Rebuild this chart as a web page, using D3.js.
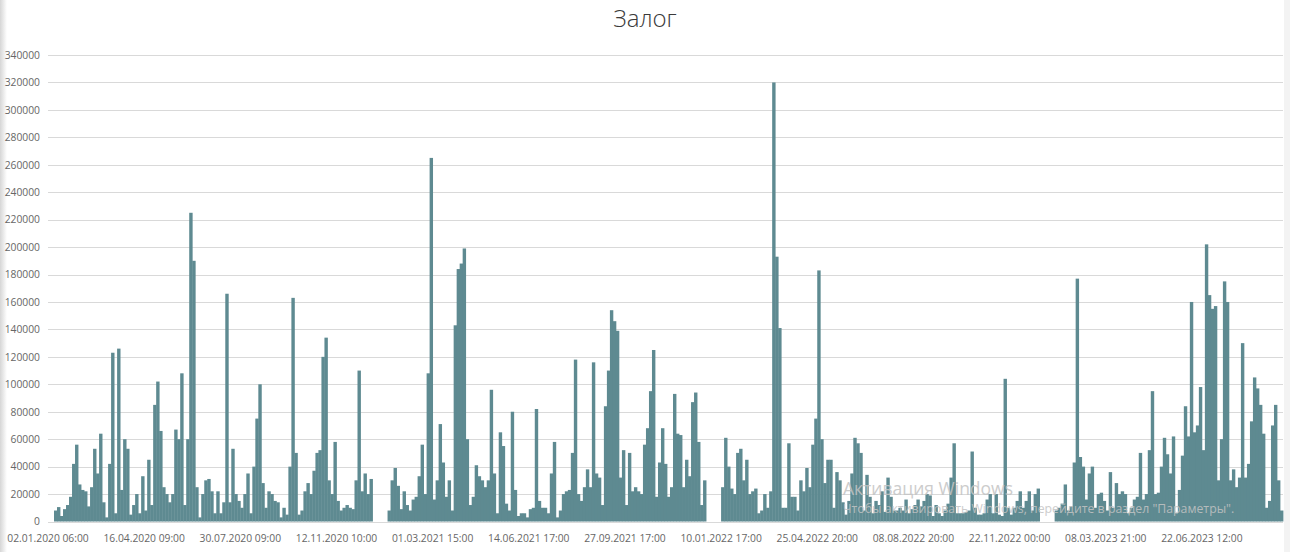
<!DOCTYPE html>
<html>
<head>
<meta charset="utf-8">
<script src="https://cdn.jsdelivr.net/npm/d3@7"></script>
<style>
  html, body { margin: 0; padding: 0; background: #fff; }
  svg { display: block; }
</style>
</head>
<body>
<svg id="chart" width="1290" height="552"></svg>
<script>
const chartTitle = "Залог";

// one value per bar, read left to right
const values = [
  8000,10500,4000,9000,12000,18000,42000,56000,27000,23000,
  22000,11000,25000,53000,35000,64000,14000,3000,42000,123000,
  6000,126000,23000,60000,53000,5000,12000,20000,6000,33000,
  8000,45000,12000,85000,102000,66000,25000,20000,14000,20000,
  67000,60000,108000,12000,60000,225000,190000,25000,3000,20000,
  30000,31000,22000,6000,22000,6000,14000,166000,14000,53000,
  20000,15000,10000,20000,35000,6000,40000,75000,100000,28000,
  10000,22000,20000,15000,14000,3000,10000,5000,40000,163000,
  50000,5000,8000,22000,28000,20000,37000,50000,52000,120000,
  134000,30000,20000,58000,15000,8000,10000,12000,10000,9000,
  30000,110000,22000,35000,20000,31000,0,0,0,0,
  0,8000,30000,39000,26000,9000,22000,12000,8000,16000,
  18000,33000,56000,20000,108000,265000,16000,30000,71000,43000,
  18000,30000,8000,143000,184000,188000,199000,60000,12000,18000,
  41000,33000,30000,25000,30000,96000,35000,6000,65000,55000,
  13000,8000,80000,23000,4000,6000,6000,3000,9000,10000,
  82000,15000,10000,10000,6000,35000,58000,3000,8000,20000,
  22000,23000,50000,118000,20000,15000,25000,38000,25000,116000,
  35000,32000,12000,84000,110000,154000,146000,139000,32000,52000,
  12000,50000,22000,25000,22000,20000,56000,68000,95000,125000,
  18000,43000,68000,42000,18000,25000,93000,64000,63000,25000,
  45000,33000,87000,94000,58000,12000,30000,0,0,0,
  0,0,25000,61000,40000,24000,20000,50000,53000,30000,
  45000,20000,22000,24000,6000,8000,20000,10000,22000,320000,
  193000,141000,10000,10000,57000,18000,18000,8000,30000,22000,
  39000,25000,56000,75000,183000,60000,28000,45000,45000,10000,
  36000,30000,14000,5000,15000,35000,61000,57000,50000,8000,
  34000,18000,6000,15000,12000,22000,7000,32000,18000,8000,
  8000,10000,8000,16000,6000,9000,12000,16000,11000,15000,
  20000,19000,4000,12000,6000,4000,8000,13000,32000,57000,
  6000,6000,6000,7000,8000,51000,10000,5000,5000,6000,
  16000,20000,6000,20000,5000,4000,104000,10000,5000,10000,
  15000,22000,10000,15000,22000,8000,20000,24000,0,0,
  0,0,0,8000,10000,13000,27000,8000,11000,43000,
  177000,47000,40000,16000,35000,40000,10000,20000,21000,15000,
  8000,36000,10000,28000,20000,22000,20000,6000,10000,16000,
  18000,50000,16000,20000,52000,95000,20000,21000,40000,61000,
  49000,35000,62000,6000,23000,48000,84000,62000,160000,65000,
  70000,98000,52000,202000,165000,155000,157000,30000,60000,175000,
  160000,30000,38000,25000,32000,130000,32000,42000,73000,105000,
  97000,85000,64000,10000,15000,70000,85000,30000,8000
];

// categories are the bar positions (time slots) of the series
const categories = values.map((_, i) => i);

// every 32nd slot carries a date label
const tickIndices = [0,32,64,96,128,160,192,224,256,288,320,352,384];
const tickLabels = [
  "02.01.2020 06:00","16.04.2020 09:00","30.07.2020 09:00","12.11.2020 10:00",
  "01.03.2021 15:00","14.06.2021 17:00","27.09.2021 17:00","10.01.2022 17:00",
  "25.04.2022 20:00","08.08.2022 20:00","22.11.2022 00:00","08.03.2023 21:00",
  "22.06.2023 12:00"
];
const yTicks = [0,20000,40000,60000,80000,100000,120000,140000,160000,180000,
                200000,220000,240000,260000,280000,300000,320000,340000];

const FONT = "'Open Sans','Noto Sans','Liberation Sans',sans-serif";
const svg = d3.select("#chart");

const plotLeft = 48, plotRight = 1283;
const barLeft = 54, barRight = 1283;
const yBottom = 521.5, yTop = 55;

const x = d3.scaleBand().domain(categories).range([barLeft, barRight]).padding(0);
const y = d3.scaleLinear().domain([0, 340000]).range([yBottom, yTop]);

// edge shading of the screenshot window
const defs = svg.append("defs");
const lg = defs.append("linearGradient").attr("id", "lshade").attr("x1", 0).attr("x2", 1);
lg.append("stop").attr("offset", "0%").attr("stop-color", "#d6d6d6");
lg.append("stop").attr("offset", "100%").attr("stop-color", "#ffffff");
svg.append("rect").attr("x", 0).attr("y", 0).attr("width", 7).attr("height", 552).attr("fill", "url(#lshade)");
svg.append("rect").attr("x", 1284).attr("y", 0).attr("width", 6).attr("height", 552).attr("fill", "#f3f3f3");

// title
svg.append("text")
  .attr("x", 645).attr("y", 27)
  .attr("text-anchor", "middle")
  .attr("font-family", FONT)
  .attr("font-size", 24)
  .attr("font-weight", 300)
  .attr("fill", "#3a3a3a")
  .text(chartTitle);

// grid
svg.append("g").selectAll("line").data(yTicks).join("line")
  .attr("x1", plotLeft).attr("x2", plotRight)
  .attr("y1", d => Math.round(y(d)) + 0.5).attr("y2", d => Math.round(y(d)) + 0.5)
  .attr("stroke", "#d9d9d9").attr("stroke-width", 1);

// y axis
const yAxis = svg.append("g")
  .attr("transform", `translate(${plotLeft},0)`)
  .call(d3.axisLeft(y).tickValues(yTicks).tickSize(0).tickPadding(8).tickFormat(d => String(d)));
yAxis.select(".domain").remove();
yAxis.selectAll("text").attr("font-family", FONT).attr("font-size", 10.3).attr("fill", "#666");

// bars
svg.append("g").selectAll("rect").data(values).join("rect")
  .attr("x", (d, i) => x(categories[i]))
  .attr("width", x.bandwidth() + 0.4)
  .attr("y", d => y(d))
  .attr("height", d => yBottom - y(d))
  .attr("fill", "#5e8a91");

// x axis
const xAxis = svg.append("g")
  .attr("transform", `translate(0,${yBottom})`)
  .call(d3.axisBottom(x).tickValues(tickIndices).tickSize(0).tickPadding(13)
        .tickFormat(d => tickLabels[tickIndices.indexOf(d)]));
xAxis.select(".domain").remove();
xAxis.selectAll("text")
  .attr("font-family", FONT).attr("font-size", 10.3).attr("fill", "#666")
  .attr("dx", -7.5);

// OS watermark visible in the screenshot
const wm = svg.append("g").attr("font-family", FONT).attr("fill", "#c4c4c4").attr("opacity", 0.85);
wm.append("text").attr("x", 843).attr("y", 495).attr("font-size", 17.5).text("Активация Windows");
wm.append("text").attr("x", 843).attr("y", 513).attr("font-size", 12.3)
  .text("Чтобы активировать Windows, перейдите в раздел \"Параметры\".");
</script>
</body>
</html>
